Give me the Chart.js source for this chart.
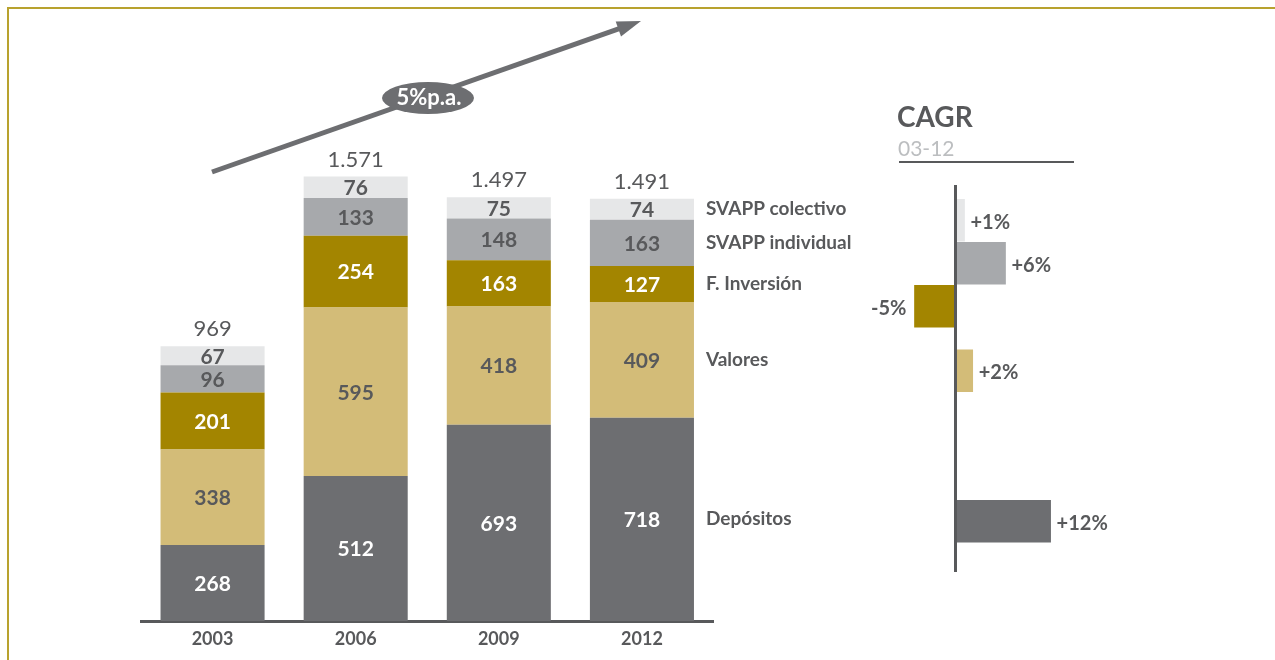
<!DOCTYPE html>
<html>
<head>
<meta charset="utf-8">
<script src="https://cdn.jsdelivr.net/npm/chart.js@4.4.1/dist/chart.umd.min.js"></script>
<style>
  html, body { margin: 0; padding: 0; background: #fff; }
  #wrap { position: relative; width: 1275px; height: 660px; overflow: hidden; }
  #frame { position: absolute; left: 7px; top: 7px; right: -5px; bottom: -5px;
           border-top: 2px solid #b8a22e; border-left: 2px solid #b8a22e; }
  #mainChart { position: absolute; left: 0; top: 0; }
  #cagrChart { position: absolute; left: 860px; top: 0; }
</style>
</head>
<body>
<div id="wrap">
  <div id="frame"></div>
  <canvas id="mainChart" width="860" height="660"></canvas>
  <canvas id="cagrChart" width="300" height="660"></canvas>
</div>
<script>
// Stacked volumes per year (bottom to top)
const years = ['2003', '2006', '2009', '2012'];
const depositos = [268, 512, 693, 718];
const valores = [338, 595, 418, 409];
const fInversion = [201, 254, 163, 127];
const svappIndividual = [96, 133, 148, 163];
const svappColectivo = [67, 76, 75, 74];
const totals = [969, 1571, 1497, 1491];

// CAGR 03-12, top to bottom
const cagrNames = ['SVAPP colectivo', 'SVAPP individual', 'F. Inversión', 'Valores', 'Depósitos'];
const cagrValues = [1.1, 6.1, -5.0, 2.1, 11.6];

const TEXT = '#58595b';
const FONT = 'Lato';
const colors = {
    depositos: '#6d6e71',
    valores: '#d3bc78',
    fInversion: '#a38500',
    svappIndividual: '#a7a9ac',
    svappColectivo: '#e6e7e8'
};

Chart.defaults.font.family = FONT + ', sans-serif';
Chart.defaults.color = TEXT;

function formatThousands(n) {
    return String(n).replace(/\B(?=(\d{3})+(?!\d))/g, '.');
}

// white numbers on the dark segments, grey on the light ones
const valueColors = ['#ffffff', TEXT, '#ffffff', TEXT, TEXT];

const mainLabels = {
    id: 'mainLabels',
    afterDatasetsDraw(chart) {
        const ctx = chart.ctx;
        const n = chart.data.datasets.length;
        ctx.save();
        ctx.textAlign = 'center';
        ctx.textBaseline = 'middle';

        // segment values
        ctx.font = '700 21px ' + FONT;
        chart.data.datasets.forEach((ds, i) => {
            chart.getDatasetMeta(i).data.forEach((bar, j) => {
                ctx.fillStyle = valueColors[i];
                ctx.fillText(ds.data[j], bar.x, (bar.y + bar.base) / 2 + 1);
            });
        });

        // totals above each bar
        ctx.font = '400 22px ' + FONT;
        ctx.fillStyle = TEXT;
        chart.getDatasetMeta(n - 1).data.forEach((bar, j) => {
            ctx.fillText(formatThousands(totals[j]), bar.x, bar.y - 17);
        });

        // series names next to the last bar
        ctx.textAlign = 'left';
        ctx.font = '700 19px ' + FONT;
        const last = chart.data.labels.length - 1;
        chart.data.datasets.forEach((ds, i) => {
            const bar = chart.getDatasetMeta(i).data[last];
            ctx.fillText(ds.label, bar.x + bar.width / 2 + 12, (bar.y + bar.base) / 2);
        });

        // growth arrow with the 5% p.a. badge
        const x0 = 212, y0 = 172, x1 = 641, y1 = 21;
        const ang = Math.atan2(y1 - y0, x1 - x0);
        const c = Math.cos(ang), s = Math.sin(ang);
        ctx.strokeStyle = '#6d6e71';
        ctx.fillStyle = '#6d6e71';
        ctx.lineWidth = 5;
        ctx.beginPath();
        ctx.moveTo(x0, y0);
        ctx.lineTo(x1 - 20 * c, y1 - 20 * s);
        ctx.stroke();
        ctx.beginPath();
        ctx.moveTo(x1, y1);
        ctx.lineTo(x1 - 24 * c - 8 * s, y1 - 24 * s + 8 * c);
        ctx.lineTo(x1 - 24 * c + 8 * s, y1 - 24 * s - 8 * c);
        ctx.closePath();
        ctx.fill();

        ctx.beginPath();
        ctx.ellipse(428, 98, 46, 16, 0, 0, Math.PI * 2);
        ctx.fill();
        ctx.fillStyle = '#ffffff';
        ctx.textAlign = 'center';
        ctx.font = '700 22px ' + FONT;
        ctx.fillText('5%p.a.', 429, 98);
        ctx.restore();
    }
};

new Chart(document.getElementById('mainChart'), {
    type: 'bar',
    data: {
        labels: years,
        datasets: [
            { label: 'Depósitos', data: depositos, backgroundColor: colors.depositos },
            { label: 'Valores', data: valores, backgroundColor: colors.valores },
            { label: 'F. Inversión', data: fInversion, backgroundColor: colors.fInversion },
            { label: 'SVAPP individual', data: svappIndividual, backgroundColor: colors.svappIndividual },
            { label: 'SVAPP colectivo', data: svappColectivo, backgroundColor: colors.svappColectivo }
        ]
    },
    options: {
        responsive: false,
        animation: false,
        layout: { padding: { left: 141, right: 146.5, top: 168, bottom: 0 } },
        datasets: { bar: { barPercentage: 0.727, categoryPercentage: 1 } },
        plugins: { legend: { display: false }, tooltip: { enabled: false } },
        scales: {
            x: {
                stacked: true,
                grid: { display: false, drawTicks: false },
                border: { display: true, color: TEXT, width: 3 },
                ticks: { color: TEXT, padding: 7, font: { size: 18, weight: '700' } },
                afterFit(scale) { scale.height = 39; }
            },
            y: { stacked: true, display: false, min: 0, max: 1600 }
        }
    },
    plugins: [mainLabels]
});

// CAGR panel: rows sit in a finer category grid so the gaps follow the original
const cagrColors = [colors.svappColectivo, colors.svappIndividual, colors.fInversion, colors.valores, colors.depositos];
const cagrSlots = [1, 3, 5, 8, 15];
const slotCount = 18;
const slotLabels = new Array(slotCount).fill('');
const slotData = new Array(slotCount).fill(null);
const slotColors = new Array(slotCount).fill('transparent');
cagrSlots.forEach((s, i) => {
    slotLabels[s] = cagrNames[i];
    slotData[s] = cagrValues[i];
    slotColors[s] = cagrColors[i];
});

const cagrLabels = {
    id: 'cagrLabels',
    afterDatasetsDraw(chart) {
        const ctx = chart.ctx;
        const x0 = chart.scales.x.getPixelForValue(0);
        ctx.save();

        // heading
        ctx.fillStyle = TEXT;
        ctx.textAlign = 'left';
        ctx.textBaseline = 'alphabetic';
        ctx.font = '700 28px ' + FONT;
        ctx.fillText('CAGR', 37, 127);
        ctx.fillStyle = '#bcbec0';
        ctx.font = '400 21px ' + FONT;
        ctx.fillText('03-12', 38, 156);
        ctx.strokeStyle = TEXT;
        ctx.lineWidth = 2;
        ctx.beginPath();
        ctx.moveTo(39, 162);
        ctx.lineTo(214, 162);
        ctx.stroke();

        // zero axis
        ctx.lineWidth = 3;
        ctx.beginPath();
        ctx.moveTo(x0, chart.chartArea.top - 3);
        ctx.lineTo(x0, chart.chartArea.bottom - 3);
        ctx.stroke();

        // value labels
        ctx.fillStyle = TEXT;
        ctx.textBaseline = 'middle';
        ctx.font = '700 20px ' + FONT;
        const meta = chart.getDatasetMeta(0);
        meta.data.forEach((bar, j) => {
            const v = slotData[j];
            if (v === null) return;
            const r = Math.round(v);
            if (v >= 0) {
                ctx.textAlign = 'left';
                ctx.fillText('+' + r + '%', bar.x + 6, bar.y + 2);
            } else {
                ctx.textAlign = 'right';
                ctx.fillText(r + '%', bar.x - 8, bar.y + 2);
            }
        });
        ctx.restore();
    }
};

new Chart(document.getElementById('cagrChart'), {
    type: 'bar',
    data: {
        labels: slotLabels,
        datasets: [{ label: 'CAGR', data: slotData, backgroundColor: slotColors, barThickness: 42 }]
    },
    options: {
        indexAxis: 'y',
        responsive: false,
        animation: false,
        layout: { padding: { left: 13.5, right: 40.5, top: 188, bottom: 85 } },
        plugins: { legend: { display: false }, tooltip: { enabled: false } },
        scales: {
            x: { display: false, min: -10, max: 20 },
            y: { display: false }
        }
    },
    plugins: [cagrLabels]
});
</script>
</body>
</html>
